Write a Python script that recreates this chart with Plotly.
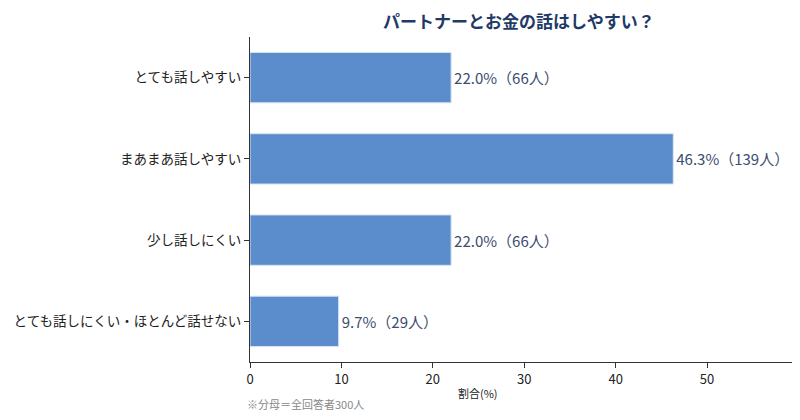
import plotly.graph_objects as go

# -- data
categories = ['とても話しやすい', 'まあまあ話しやすい', '少し話しにくい', 'とても話しにくい・ほとんど話せない']
percent = [22.0, 46.3, 22.0, 9.7]
people = [66, 139, 66, 29]

labels = [f'{p:.1f}%（{n}人）' for p, n in zip(percent, people)]

font_jp = 'Noto Sans CJK JP'

# the page body keeps an 8px margin, so the figure is a bit smaller than the window
fig = go.Figure()
fig.add_trace(go.Bar(
    x=percent, y=categories, orientation='h',
    width=0.62,
    marker=dict(color='#5b8ccc', line=dict(color='#d8e4f2', width=1)),
    text=labels, textposition='outside',
    textfont=dict(family=font_jp, size=15, color='#3b4d6e'),
    cliponaxis=False,
))

fig.update_layout(
    width=792, height=412,
    margin=dict(l=242, r=7, t=29, b=58),
    plot_bgcolor='white', paper_bgcolor='white',
    showlegend=False,
    title=dict(text='<b>パートナーとお金の話はしやすい？</b>',
               x=0.645, xanchor='center', y=0.966, yanchor='middle',
               font=dict(family=font_jp, size=17, color='#1f3a66')),
    font=dict(family=font_jp),
)

fig.update_xaxes(
    range=[0, 59.4], dtick=10, showgrid=False, zeroline=False, automargin=False,
    showline=True, linecolor='#333333', linewidth=1,
    ticks='outside', ticklen=5, tickcolor='#333333',
    tickfont=dict(size=13, color='#222222'),
)
fig.update_yaxes(
    categoryorder='array', categoryarray=categories[::-1],
    range=[-0.5, 3.5], showgrid=False, zeroline=False, automargin=False,
    showline=True, linecolor='#333333', linewidth=1,
    ticks='outside', ticklen=5, tickcolor='#333333',
    tickfont=dict(size=13.5, color='#222222'),
)

# x-axis title, centred under the 0-50 ticks
fig.add_annotation(
    text='割合(%)', xref='paper', yref='paper',
    x=0.42, y=-0.095, xanchor='center', yanchor='middle', showarrow=False,
    font=dict(family=font_jp, size=11, color='#222222'),
)
fig.add_annotation(
    text='※分母＝全回答者300人', xref='paper', yref='paper',
    x=-0.01, y=-0.13, xanchor='left', yanchor='middle', showarrow=False,
    font=dict(family=font_jp, size=11, color='#888888'),
)

fig.write_html('out.html')
